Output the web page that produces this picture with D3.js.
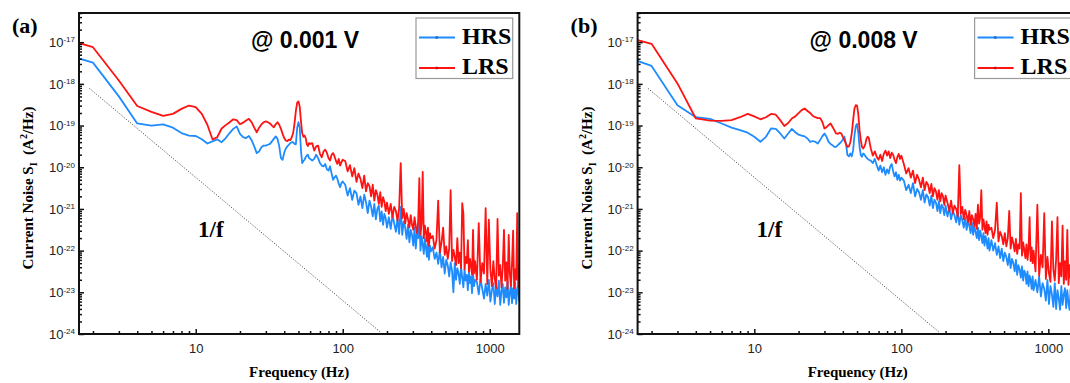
<!DOCTYPE html>
<html>
<head>
<meta charset="utf-8">
<script src="https://cdn.jsdelivr.net/npm/d3@7"></script>
<style>
  body { margin: 0; background: #fff; }
  svg { display: block; }
</style>
</head>
<body>
<svg id="chart" width="1070" height="383"></svg>
<script>
// frequency bins (Hz), shared by every series
const freq = [1,2,3,4,5,6,7,8,9,10,11,12,13,14,15,16,17,18,19,20,21,22,23,24,25,26,27,28,29,30,
  31,32,33,34,35,36,37,38,39,40,41,42,43,44,45,46,47,48,49,50,51,52,53,54,55,56,57,58,59,60,
  62,64,66,68,70,72,74,76,78,80,82,84,86,88,90,92,94,96,98,100,
  104,108,112,116,120,124,128,132,136,140,144,148,152,156,160,164,168,172,176,180,184,188,192,196,200,
  206,212,218,224,230,236,242,248,254,260,266,272,278,284,290,296,302,308,314,320,326,332,338,344,350,356,362,368,374,380,386,392,398,
  410,422,434,446,458,470,482,494,506,518,530,542,554,566,578,590,602,614,626,638,650,662,674,686,698,710,722,734,746,758,770,782,794,
  818,842,866,890,914,938,962,986,1010,1034,1058,1082,1106,1130,1154,1178,1202,1226,1250,1274,1298,1322,1346,1370,1394,1418,1442,1466,1490,1514,1538,1562,1586,1610];

// noise values, stored as log10(S_I)
const hrsA = [-17.18,-17.49,-18.30,-18.95,-19.00,-18.97,-19.05,-19.18,-19.24,-19.25,-19.33,-19.43,-19.38,-19.33,-19.40,-19.30,-19.18,-19.08,-19.02,-19.20,
  -19.28,-19.30,-19.25,-19.35,-19.50,-19.66,-19.62,-19.52,-19.48,-19.48,-19.46,-19.44,-19.38,-19.32,-19.26,-19.32,-19.50,-19.78,-19.82,-19.65,
  -19.55,-19.50,-19.46,-19.42,-19.40,-19.40,-19.44,-19.45,-19.05,-18.92,-19.05,-19.60,-19.90,-19.85,-19.82,-19.76,-19.72,-19.70,-19.78,-19.80,
  -19.84,-19.80,-19.70,-19.78,-19.90,-19.96,-19.98,-19.92,-20.05,-20.08,-19.98,-20.15,-20.30,-20.24,-20.20,-20.28,-20.40,-20.48,-20.38,-20.34,
  -20.42,-20.68,-20.50,-20.78,-20.56,-20.62,-20.90,-20.70,-20.98,-20.66,-20.84,-21.10,-20.80,-20.95,-21.18,-20.88,-21.25,-21.00,-20.92,-21.30,-21.06,-21.38,-21.12,-21.22,-21.45,
  -21.20,-21.48,-21.15,-21.35,-21.55,-21.22,-21.60,-20.95,-21.62,-21.30,-21.45,-21.72,-21.38,-21.80,-21.50,-21.62,-21.88,-21.45,-21.95,-21.58,-21.70,-21.26,-22.00,-21.65,-21.85,-22.08,-21.70,-21.92,-22.15,-21.78,-22.22,-21.88,-22.02,
  -21.92,-22.20,-22.05,-22.32,-21.98,-22.40,-22.15,-22.55,-22.22,-22.35,-22.62,-22.28,-22.48,-23.00,-22.30,-22.70,-22.42,-22.55,-22.80,-22.38,-22.65,-22.88,-22.45,-22.72,-22.58,-22.95,-22.50,-22.78,-22.62,-23.02,-22.55,-22.85,-22.70,
  -22.75,-23.05,-22.68,-22.92,-23.15,-22.80,-23.08,-22.70,-23.22,-22.95,-22.78,-23.28,-22.85,-23.10,-22.72,-23.30,-22.98,-22.80,-23.25,-22.88,-23.12,-22.74,-23.30,-23.00,-22.82,-23.26,-22.90,-23.15,-22.76,-23.28,-22.95,-22.85,-23.20,-22.90];

const lrsA = [-16.80,-17.12,-17.92,-18.53,-18.67,-18.77,-18.72,-18.60,-18.52,-18.56,-18.72,-18.98,-19.33,-19.28,-19.07,-18.99,-18.92,-18.85,-18.87,-18.97,
  -18.93,-18.88,-18.84,-18.92,-19.05,-19.16,-19.05,-18.97,-18.92,-18.90,-18.92,-18.95,-19.00,-19.04,-18.97,-18.92,-18.98,-19.08,-19.20,-19.30,
  -19.36,-19.37,-19.34,-19.35,-19.28,-19.18,-18.95,-18.65,-18.45,-18.42,-18.55,-18.90,-19.18,-19.27,-19.24,-19.30,-19.45,-19.49,-19.42,-19.44,
  -19.42,-19.60,-19.50,-19.48,-19.68,-19.76,-19.62,-19.58,-19.65,-19.78,-19.84,-19.70,-19.66,-19.74,-19.85,-19.92,-19.80,-19.96,-19.88,-19.82,
  -19.85,-20.10,-19.95,-20.22,-20.02,-20.35,-20.15,-20.28,-20.50,-20.20,-20.58,-20.38,-20.45,-20.70,-20.42,-20.80,-20.55,-20.65,-20.88,-20.60,-20.95,-20.72,-20.82,-21.05,-20.85,
  -21.12,-20.88,-21.20,-20.95,-21.05,-21.28,-20.98,-19.90,-21.22,-21.00,-21.35,-21.10,-21.25,-21.45,-21.15,-21.38,-21.50,-21.20,-21.42,-21.58,-21.30,-20.26,-21.62,-21.35,-20.11,-21.70,-21.40,-21.55,-21.78,-21.45,-21.88,-21.58,-21.70,
  -21.65,-21.95,-21.75,-20.80,-22.05,-21.80,-21.45,-22.10,-21.90,-22.20,-21.95,-20.55,-22.25,-21.98,-22.15,-22.35,-21.70,-22.30,-22.05,-22.42,-20.86,-21.12,-22.45,-22.15,-22.30,-21.75,-22.50,-22.20,-22.38,-22.58,-21.50,-22.55,-22.25,
  -22.70,-21.34,-22.75,-22.30,-22.55,-20.98,-22.80,-21.26,-22.45,-22.85,-22.25,-22.68,-22.90,-21.24,-22.60,-22.35,-22.88,-22.40,-21.50,-22.72,-22.28,-22.92,-21.62,-22.55,-22.85,-22.30,-21.52,-22.90,-22.45,-22.70,-21.10,-22.88,-22.35,-22.75];

const hrsB = [-17.19,-17.57,-18.51,-18.80,-18.84,-18.95,-19.05,-19.11,-19.17,-19.27,-19.39,-19.27,-19.07,-19.08,-19.19,-19.31,-19.19,-19.08,-19.16,-19.22,
  -19.24,-19.26,-19.31,-19.39,-19.37,-19.39,-19.43,-19.35,-19.26,-19.19,-19.27,-19.39,-19.44,-19.47,-19.51,-19.51,-19.47,-19.43,-19.39,-19.34,
  -19.27,-19.43,-19.71,-19.74,-19.67,-19.74,-19.59,-19.24,-19.01,-18.96,-19.19,-19.51,-19.71,-19.75,-19.67,-19.69,-19.74,-19.77,-19.80,-19.82,
  -19.84,-19.90,-19.80,-19.95,-20.08,-19.96,-20.12,-20.00,-20.18,-20.05,-20.15,-19.98,-19.92,-20.10,-20.22,-20.12,-20.30,-20.18,-20.32,-20.25,
  -20.32,-20.55,-20.42,-20.62,-20.38,-20.70,-20.52,-20.60,-20.78,-20.55,-20.85,-20.65,-20.72,-20.92,-20.68,-20.98,-20.78,-20.85,-21.05,-20.82,-21.10,-20.90,-20.96,-21.15,-20.92,
  -21.18,-20.98,-21.25,-21.05,-21.15,-21.32,-21.08,-21.38,-21.15,-21.28,-21.45,-21.20,-21.50,-21.30,-21.40,-21.58,-21.32,-21.62,-21.42,-21.55,-21.70,-21.45,-21.75,-21.52,-21.65,-21.82,-21.58,-21.88,-21.65,-21.78,-21.95,-21.70,-22.00,
  -21.75,-22.00,-21.82,-22.10,-21.90,-22.18,-21.95,-22.25,-22.05,-22.15,-22.35,-22.08,-22.42,-22.20,-22.30,-22.50,-22.22,-22.58,-22.35,-22.45,-22.65,-22.38,-22.72,-22.48,-22.55,-22.80,-22.50,-22.85,-22.60,-22.70,-22.92,-22.62,-22.95,
  -22.70,-23.00,-22.62,-23.10,-22.78,-22.92,-23.20,-22.70,-23.28,-22.85,-23.05,-23.35,-22.78,-23.40,-22.95,-23.15,-23.42,-22.85,-23.30,-23.05,-22.90,-23.38,-22.95,-23.25,-23.42,-22.92,-23.32,-23.10,-22.88,-23.40,-23.00,-23.28,-22.95,-23.35];

const lrsB = [-16.76,-17.04,-17.99,-18.83,-18.88,-18.89,-18.87,-18.80,-18.72,-18.78,-18.85,-18.80,-18.72,-18.74,-18.87,-19.01,-18.94,-18.83,-18.78,-18.70,
  -18.63,-18.59,-18.65,-18.70,-18.77,-18.80,-18.82,-18.82,-18.91,-19.07,-19.04,-18.99,-18.95,-19.03,-19.11,-19.19,-19.20,-19.17,-19.19,-19.27,
  -19.35,-19.44,-19.51,-19.50,-19.40,-19.19,-18.87,-18.59,-18.51,-18.52,-18.74,-19.11,-19.35,-19.51,-19.55,-19.51,-19.43,-19.31,-19.27,-19.29,
  -19.55,-19.72,-19.62,-19.75,-19.82,-19.70,-19.85,-19.68,-19.60,-19.72,-19.62,-19.78,-19.65,-19.70,-19.82,-19.90,-19.75,-19.68,-19.80,-19.72,
  -19.92,-20.15,-20.02,-20.25,-20.08,-20.38,-20.18,-20.30,-20.48,-20.25,-20.55,-20.35,-20.42,-20.62,-20.40,-20.70,-20.50,-20.58,-20.78,-20.55,-20.82,-20.62,-20.70,-20.90,-20.68,
  -20.85,-21.05,-20.80,-21.10,-20.92,-21.00,-21.18,-19.95,-21.12,-20.95,-21.25,-21.02,-21.15,-21.32,-21.05,-21.38,-21.15,-21.25,-21.42,-21.12,-21.48,-20.90,-21.35,-21.20,-20.55,-21.50,-21.25,-21.42,-21.58,-21.30,-21.62,-21.38,-21.50,
  -21.45,-21.70,-21.50,-20.85,-21.78,-21.55,-21.65,-21.85,-21.58,-21.90,-21.70,-21.05,-21.95,-21.68,-21.82,-22.02,-21.72,-22.08,-21.85,-21.95,-20.62,-22.12,-21.80,-21.98,-22.18,-21.85,-22.22,-21.95,-21.20,-22.25,-21.92,-22.30,-22.00,
  -22.50,-20.90,-22.60,-22.10,-22.40,-21.10,-22.68,-22.15,-22.55,-22.75,-21.30,-22.45,-22.72,-22.20,-21.20,-22.78,-22.30,-22.62,-21.40,-22.80,-22.25,-22.70,-21.50,-22.82,-22.35,-22.65,-21.40,-22.80,-22.30,-22.72,-21.30,-22.85,-22.40,-22.70];

// dotted 1/f guide: two end points (Hz, A^2/Hz)
const guideF = [1.89, 180];
const guideS = [7.8e-19, 1.12e-24];

const xTickLabels = ["10", "100", "1000"];
const yExponents = [-24, -23, -22, -21, -20, -19, -18, -17];
const seriesNames = ["HRS", "LRS"];

const panels = [
  { tag: "(a)", bias: "@ 0.001 V", hrs: hrsA, lrs: lrsA },
  { tag: "(b)", bias: "@ 0.008 V", hrs: hrsB, lrs: lrsB }
];

const colors = { HRS: "#1e8cff", LRS: "#ff1212" };
const serif = "'Liberation Serif', 'Times New Roman', serif";
const sans = "'Liberation Sans', Arial, sans-serif";

const margin = { left: 79, top: 13 };
const plotW = 440.3, plotH = 321;
const panelShift = 558.6;

const svg = d3.select("#chart");

const x = d3.scaleLog().domain([1.607, 1589]).range([0, plotW]);
const y = d3.scaleLog().domain([1e-24, Math.pow(10, -16.3)]).range([plotH, 0]);

const xMajor = xTickLabels.map(Number);
const xMinor = x.ticks().filter(v => !xMajor.includes(v));
const yMajor = yExponents.map(e => Math.pow(10, e));
const yMinor = y.ticks().filter(v => !yMajor.some(m => Math.abs(m - v) / m < 1e-6));

const line = d3.line().x(d => x(d[0])).y(d => y(d[1]));

panels.forEach((p, k) => {
  const g = svg.append("g")
    .attr("transform", `translate(${margin.left + k * panelShift},${margin.top})`);

  g.append("clipPath").attr("id", "clip" + k)
    .append("rect").attr("width", plotW).attr("height", plotH);

  const plot = g.append("g").attr("clip-path", `url(#clip${k})`);

  [["HRS", p.hrs], ["LRS", p.lrs]].forEach(([name, vals]) => {
    const pts = vals.map((v, i) => [freq[i], Math.pow(10, v)]).filter(d => d[0] !== undefined);
    plot.append("path")
      .datum(pts)
      .attr("d", line)
      .attr("fill", "none")
      .attr("stroke", colors[name])
      .attr("stroke-width", 1.8)
      .attr("stroke-linejoin", "round");
  });

  plot.append("path")
    .datum(guideF.map((f, i) => [f, guideS[i]]))
    .attr("d", line)
    .attr("fill", "none")
    .attr("stroke", "#555")
    .attr("stroke-width", 1)
    .attr("stroke-dasharray", "1.2,1.6");

  // frame
  g.append("rect")
    .attr("width", plotW).attr("height", plotH)
    .attr("fill", "none").attr("stroke", "#111").attr("stroke-width", 2);

  // x axis
  const xMin = g.append("g").attr("transform", `translate(0,${plotH})`)
    .call(d3.axisBottom(x).tickValues(xMinor).tickSize(-3).tickFormat(""));
  const xMaj = g.append("g").attr("transform", `translate(0,${plotH})`)
    .call(d3.axisBottom(x).tickValues(xMajor).tickSize(-5).tickPadding(10).tickFormat((d, i) => xTickLabels[i]));
  [xMin, xMaj].forEach(a => {
    a.select(".domain").remove();
    a.selectAll(".tick line").attr("stroke", "#111").attr("stroke-width", 1.5);
  });
  xMaj.selectAll(".tick text")
    .attr("font-family", sans).attr("font-size", 13).attr("fill", "#222");

  // y axis
  const yMin = g.append("g")
    .call(d3.axisLeft(y).tickValues(yMinor).tickSize(-3).tickFormat(""));
  const yMaj = g.append("g")
    .call(d3.axisLeft(y).tickValues(yMajor).tickSize(-5).tickPadding(4).tickFormat(""));
  [yMin, yMaj].forEach(a => {
    a.select(".domain").remove();
    a.selectAll(".tick line").attr("stroke", "#111").attr("stroke-width", 1.5);
  });
  yMaj.selectAll(".tick text").each(function (d, i) {
    const t = d3.select(this)
      .attr("font-family", sans).attr("font-size", 13).attr("fill", "#222");
    t.append("tspan").text("10");
    t.append("tspan").attr("dy", "-0.55em").attr("font-size", 8).text(yExponents[i]);
  });

  // axis titles
  g.append("text")
    .attr("x", plotW / 2).attr("y", 364)
    .attr("text-anchor", "middle")
    .attr("font-family", serif).attr("font-weight", "bold").attr("font-size", 15)
    .text("Frequency (Hz)");

  const yt = g.append("text")
    .attr("transform", "translate(-46,175) rotate(-90)")
    .attr("text-anchor", "middle")
    .attr("font-family", serif).attr("font-weight", "bold").attr("font-size", 15);
  yt.append("tspan").text("Current Noise S");
  yt.append("tspan").attr("font-size", 10).attr("dy", 4).text("I");
  yt.append("tspan").attr("dy", -4).text("\u00a0\u00a0(A");
  yt.append("tspan").attr("font-size", 10).attr("dy", -6).text("2");
  yt.append("tspan").attr("dy", 6).text("/Hz)");

  // panel tag, bias, 1/f
  g.append("text")
    .attr("x", -67).attr("y", 20)
    .attr("font-family", serif).attr("font-weight", "bold").attr("font-size", 22)
    .text(p.tag);
  g.append("text")
    .attr("x", 172).attr("y", 35)
    .attr("font-family", sans).attr("font-weight", "bold").attr("font-size", 23)
    .text(p.bias);
  g.append("text")
    .attr("x", 119).attr("y", 224)
    .attr("font-family", serif).attr("font-weight", "bold").attr("font-size", 23)
    .text("1/f");

  // legend
  const lg = g.append("g").attr("transform", "translate(337,5)");
  lg.append("rect")
    .attr("width", 96.7).attr("height", 60.5)
    .attr("fill", "#fff").attr("stroke", "#999").attr("stroke-width", 1.2);
  seriesNames.forEach((name, i) => {
    const yy = 19.5 + i * 30.5;
    lg.append("line")
      .attr("x1", 3).attr("x2", 39).attr("y1", yy).attr("y2", yy)
      .attr("stroke", colors[name]).attr("stroke-width", 1.8);
    lg.append("rect")
      .attr("x", 19.5).attr("y", yy - 1.2).attr("width", 2.4).attr("height", 2.4)
      .attr("fill", d3.color(colors[name]).darker(0.8));
    lg.append("text")
      .attr("x", 46).attr("y", yy + 6)
      .attr("font-family", serif).attr("font-weight", "bold").attr("font-size", 24)
      .text(name);
  });
});
</script>
</body>
</html>
